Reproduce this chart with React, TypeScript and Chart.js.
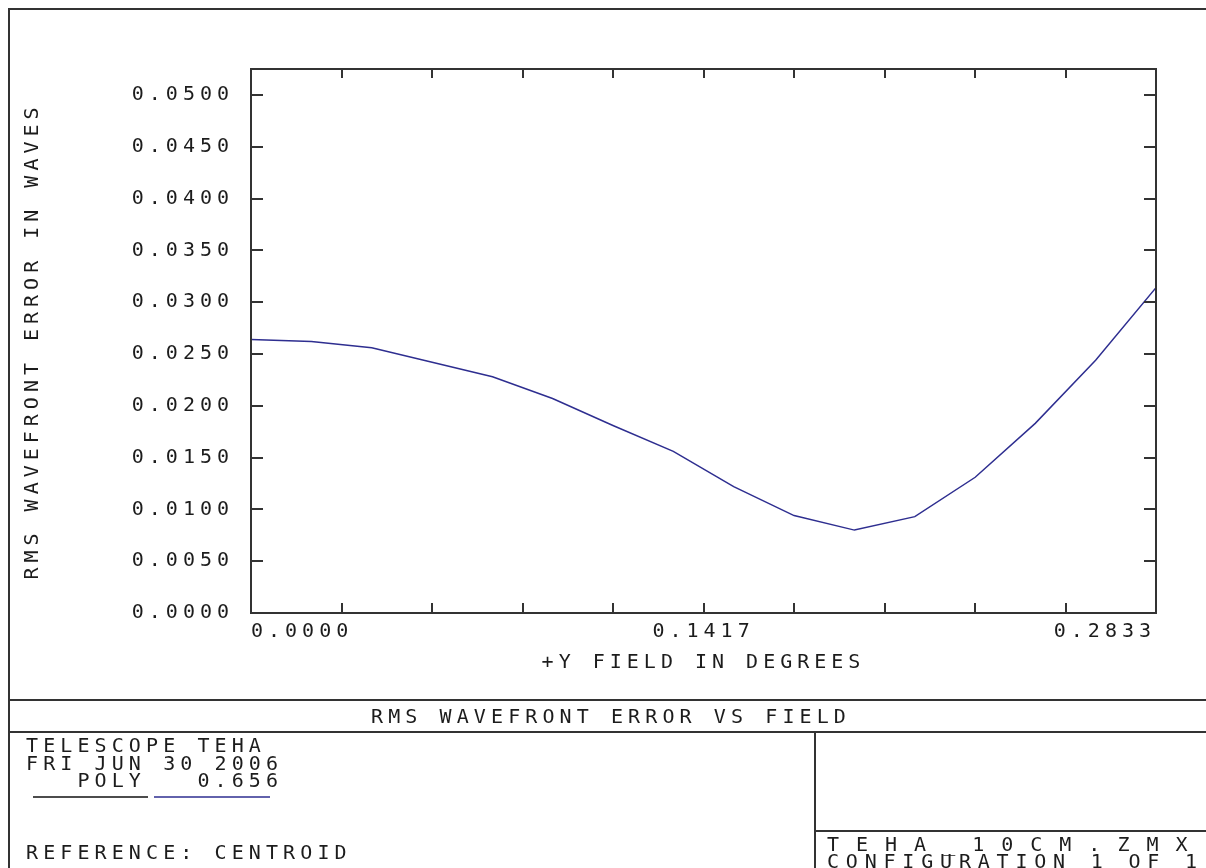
import React, { useEffect, useRef } from 'react';
import { Chart, registerables } from 'chart.js';

Chart.register(...registerables);

// ---- data ----
const fieldDeg = [0.0, 0.0189, 0.0378, 0.0567, 0.0756, 0.0944, 0.1133, 0.1322, 0.1511, 0.17, 0.1889, 0.2078, 0.2267, 0.2455, 0.2644, 0.2833];
const rmsWaves = [0.0264, 0.0262, 0.0256, 0.0242, 0.0228, 0.0207, 0.0181, 0.0156, 0.0122, 0.0094, 0.008, 0.0093, 0.0131, 0.0183, 0.0244, 0.0314];

const xTickValues = [0, 0.02833, 0.05666, 0.085, 0.11333, 0.14167, 0.17, 0.19833, 0.22666, 0.255, 0.2833];
const xTickLabels = ['0.0000', '', '', '', '', '0.1417', '', '', '', '', '0.2833'];
const yTickValues = [0, 0.005, 0.01, 0.015, 0.02, 0.025, 0.03, 0.035, 0.04, 0.045, 0.05];
const yTickLabels = ['0.0000', '0.0050', '0.0100', '0.0150', '0.0200', '0.0250', '0.0300', '0.0350', '0.0400', '0.0450', '0.0500'];

const plotTitle = 'RMS WAVEFRONT ERROR VS FIELD';
const infoLines = ['TELESCOPE TEHA', 'FRI JUN 30 2006', '   POLY   0.656'];
const referenceText = 'REFERENCE: CENTROID';
const fileText = 'TEHA_10CM.ZMX';
const configText = 'CONFIGURATION 1 OF 1';

const FONT = '"DejaVu Sans Mono", "Liberation Mono", monospace';
const INK = '#1c1c1c';
const FRAME = '#333333';
const CURVE = '#2e2e90';

export default function App() {
  const ref = useRef<HTMLCanvasElement>(null);

  useEffect(() => {
    const canvas = ref.current;
    if (!canvas) return;

    const framePlugin = {
      id: 'zemaxFrame',
      beforeDraw(chart: any) {
        (chart.ctx as any).letterSpacing = '5px';
      },
      afterDraw(chart: any) {
        const ctx = chart.ctx as CanvasRenderingContext2D & { letterSpacing: string };
        const { left, top, right, bottom } = chart.chartArea;
        const xs = chart.scales.x;
        const ys = chart.scales.y;
        ctx.save();
        ctx.strokeStyle = FRAME;
        ctx.lineWidth = 2;
        // plot frame
        ctx.strokeRect(left, top, right - left, bottom - top);
        // inward tick marks
        ctx.beginPath();
        for (const t of ys.ticks) {
          const py = Math.round(ys.getPixelForValue(t.value));
          ctx.moveTo(left, py);
          ctx.lineTo(left + 12, py);
          ctx.moveTo(right, py);
          ctx.lineTo(right - 12, py);
        }
        for (const t of xs.ticks) {
          const px = Math.round(xs.getPixelForValue(t.value));
          ctx.moveTo(px, bottom);
          ctx.lineTo(px, bottom - 10);
          ctx.moveTo(px, top);
          ctx.lineTo(px, top + 9);
        }
        ctx.stroke();

        // outer page frame and info block
        ctx.beginPath();
        ctx.moveTo(9, 868);
        ctx.lineTo(9, 9);
        ctx.lineTo(1206, 9);
        ctx.moveTo(9, 700);
        ctx.lineTo(1206, 700);
        ctx.moveTo(9, 732);
        ctx.lineTo(1206, 732);
        ctx.moveTo(815, 732);
        ctx.lineTo(815, 868);
        ctx.moveTo(815, 831);
        ctx.lineTo(1206, 831);
        ctx.stroke();

        // legend sample lines
        ctx.lineWidth = 1.5;
        ctx.strokeStyle = '#111111';
        ctx.beginPath();
        ctx.moveTo(33, 797);
        ctx.lineTo(148, 797);
        ctx.stroke();
        ctx.strokeStyle = CURVE;
        ctx.beginPath();
        ctx.moveTo(154, 797);
        ctx.lineTo(270, 797);
        ctx.stroke();

        // texts
        ctx.fillStyle = INK;
        ctx.font = `20px ${FONT}`;
        ctx.textBaseline = 'alphabetic';
        ctx.letterSpacing = '5.1px';
        ctx.textAlign = 'left';
        ctx.fillText(plotTitle, 371, 723);
        ctx.fillText(infoLines[0], 26, 752);
        ctx.fillText(infoLines[1], 26, 770);
        ctx.fillText(infoLines[2], 26, 787);
        ctx.fillText(referenceText, 26, 859);
        ctx.letterSpacing = '17px';
        ctx.fillText(fileText, 827, 851);
        ctx.letterSpacing = '6.8px';
        ctx.fillText(configText, 827, 868);
        ctx.restore();
      },
    };

    const chart = new Chart(canvas, {
      type: 'line',
      data: {
        datasets: [
          {
            data: fieldDeg.map((f, i) => ({ x: f, y: rmsWaves[i] })),
            borderColor: CURVE,
            borderWidth: 1.5,
            pointRadius: 0,
            tension: 0,
            fill: false,
          },
        ],
      },
      options: {
        responsive: false,
        animation: false,
        devicePixelRatio: 1,
        layout: { padding: { left: 9, top: 69, right: 50, bottom: 168 } },
        plugins: { legend: { display: false }, tooltip: { enabled: false } },
        scales: {
          x: {
            type: 'linear',
            min: 0,
            max: 0.2833,
            grid: { display: false, drawTicks: false },
            border: { display: false },
            afterBuildTicks: (scale: any) => {
              scale.ticks = xTickValues.map((v) => ({ value: v }));
            },
            afterFit: (scale: any) => {
              scale.height = 87;
            },
            ticks: {
              autoSkip: false,
              maxRotation: 0,
              align: 'inner',
              padding: 7,
              color: INK,
              font: { family: FONT, size: 20 },
              callback: (_v: any, i: number) => xTickLabels[i],
            },
            title: {
              display: true,
              text: '+Y FIELD IN DEGREES',
              color: INK,
              font: { family: FONT, size: 20 },
              padding: { top: 0, bottom: 25 },
            },
          },
          y: {
            type: 'linear',
            min: 0,
            max: 0.0525,
            grid: { display: false, drawTicks: false },
            border: { display: false },
            afterBuildTicks: (scale: any) => {
              scale.ticks = yTickValues.map((v) => ({ value: v }));
            },
            afterFit: (scale: any) => {
              scale.width = 242;
            },
            ticks: {
              autoSkip: false,
              padding: 17,
              color: INK,
              font: { family: FONT, size: 20 },
              callback: (_v: any, i: number) => yTickLabels[i],
            },
            title: {
              display: true,
              text: 'RMS WAVEFRONT ERROR IN WAVES',
              color: INK,
              font: { family: FONT, size: 20 },
              padding: { top: 12, bottom: 0 },
            },
          },
        },
      },
      plugins: [framePlugin],
    } as any);

    return () => chart.destroy();
  }, []);

  return (
    <div style={{ position: 'fixed', left: 0, top: 0, width: 1206, height: 868, background: '#ffffff', overflow: 'hidden' }}>
      <canvas ref={ref} width={1206} height={868} style={{ display: 'block' }} />
    </div>
  );
}
